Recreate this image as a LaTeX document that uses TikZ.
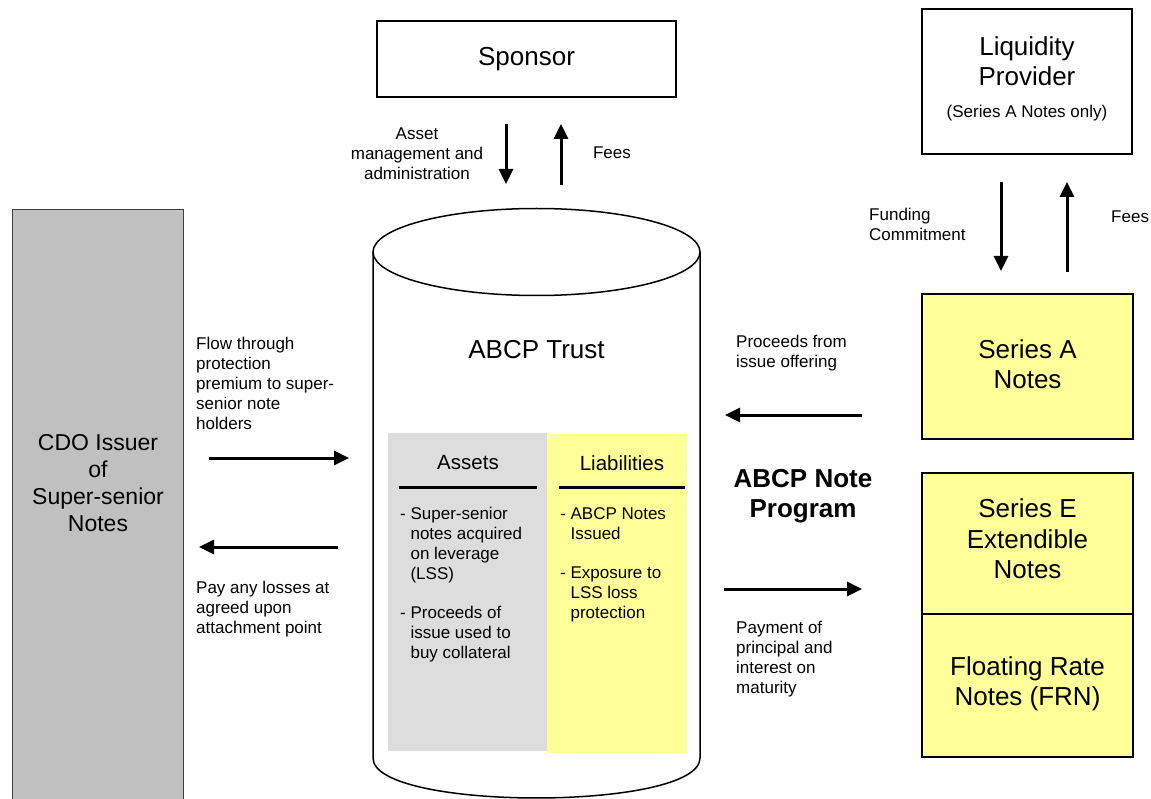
\documentclass[tikz,border=0pt]{standalone}
\usepackage{fontspec}
\setmainfont{Liberation Sans}
\usetikzlibrary{arrows.meta}
\definecolor{noteyellow}{HTML}{FFFF99}
\definecolor{cdogray}{HTML}{C0C0C0}
\definecolor{assetgray}{HTML}{DDDDDD}
\begin{document}
\begin{tikzpicture}[x=1pt,y=-1pt,
  box/.style={draw=black,line width=1.5pt,inner sep=0pt,align=center,
    font=\fontsize{26}{30.5}\selectfont},
  big/.style={inner sep=0pt,align=center,font=\fontsize{26}{30.5}\selectfont},
  small/.style={inner sep=0pt,align=left,font=\fontsize{17}{20}\selectfont},
  flow/.style={line width=3pt,-{Triangle[length=15pt,width=14pt]}},
  rule/.style={line width=3pt}]
\useasboundingbox (0,0) rectangle (1151,799);

% --- Sponsor and its two flows
\node[box,minimum width=299pt,minimum height=76pt] (sponsor) at (526.5,59) {Sponsor};
\coordinate (sd1) at (506,124); \coordinate (sd2) at (506,184);
\coordinate (su1) at (561,185); \coordinate (su2) at (561,124);
\draw[flow] (sd1) -- (sd2);
\draw[flow] (su1) -- (su2);
\node[small,align=center] (mgmt) at (417,154) {Asset\\management and\\administration};
\node[small] (fees1) at (612,153) {Fees};

% --- Liquidity provider
\node[box,minimum width=210pt,minimum height=145pt] (liq) at (1027,81.5) {};
\node[big] (liqtxt) at (1027,61) {Liquidity\\Provider};
\node[small,align=center] (liqnote) at (1027,113) {(Series A Notes only)};
\coordinate (ld1) at (1001,182); \coordinate (ld2) at (1001,271);
\coordinate (lu1) at (1067,272); \coordinate (lu2) at (1067,182);
\draw[flow] (ld1) -- (ld2);
\draw[flow] (lu1) -- (lu2);
\node[small,anchor=west] (fund) at (869,224) {Funding\\Commitment};
\node[small,anchor=west] (fees2) at (1111,217) {Fees};

% --- Note series
\node[box,fill=noteyellow,minimum width=211pt,minimum height=145pt] (seriesA) at (1027.5,366.5) {};
\node[big] (seriesAtxt) at (1027.5,364) {Series A\\Notes};
\node[box,fill=noteyellow,minimum width=211pt,minimum height=141pt] (seriesE) at (1027.5,543.5) {};
\node[big] (seriesEtxt) at (1027.5,539) {Series E\\Extendible\\Notes};
\node[box,fill=noteyellow,minimum width=211pt,minimum height=143pt] (frn) at (1027.5,685.5) {};
\node[big] (frntxt) at (1027.5,684) {Floating Rate\\Notes (FRN)};

% --- CDO issuer
\node[draw=black!75,line width=1pt,fill=cdogray,minimum width=171pt,minimum height=600pt,inner sep=0pt] (cdo) at (97.5,510) {};
\node[inner sep=0pt,align=center,font=\fontsize{23}{27}\selectfont] (cdotxt) at (98,483) {CDO Issuer\\of\\Super-senior\\Notes};

% --- ABCP trust drum
\draw[line width=1.5pt,fill=white] (373,252) -- (373,758)
  .. controls (373,811.3) and (700,811.3) .. (700,758) -- (700,252);
\draw[line width=1.5pt,fill=white] (536.5,252) ellipse [x radius=163.5, y radius=43.5];
\node[big] (trust) at (536.5,350) {ABCP Trust};

% --- Balance sheet inside the trust
\node[fill=assetgray,minimum width=159pt,minimum height=318pt,inner sep=0pt] (assets) at (467.5,592) {};
\node[fill=noteyellow,minimum width=140pt,minimum height=319pt,inner sep=0pt] (liab) at (617,593.5) {};
\node[inner sep=0pt,font=\fontsize{20.5}{24}\selectfont] (assetshd) at (468,463) {Assets};
\node[inner sep=0pt,font=\fontsize{20.5}{24}\selectfont] (liabhd) at (622,463) {Liabilities};
\coordinate (ar1) at (399,487); \coordinate (ar2) at (537,487);
\coordinate (lr1) at (559,487); \coordinate (lr2) at (685,487);
\draw[rule] (ar1) -- (ar2);
\draw[rule] (lr1) -- (lr2);
\node[small,anchor=north west] (assetlist) at (400,507)
  {- Super-senior\\\phantom{- }notes acquired\\\phantom{- }on leverage\\\phantom{- }(LSS)\\[19pt]- Proceeds of\\\phantom{- }issue used to\\\phantom{- }buy collateral};
\node[small,anchor=north west] (liablist) at (560,507)
  {- ABCP Notes\\\phantom{- }Issued\\[19pt]- Exposure to\\\phantom{- }LSS loss\\\phantom{- }protection};

% --- Flows between CDO issuer and trust
\coordinate (cf1) at (209,458); \coordinate (cf2) at (349,458);
\coordinate (cb1) at (338,547); \coordinate (cb2) at (199,547);
\draw[flow] (cf1) -- (cf2);
\draw[flow] (cb1) -- (cb2);
\node[small,anchor=west] (flowtxt) at (196,383)
  {Flow through\\protection\\premium to super-\\senior note\\holders};
\node[small,anchor=west] (paytxt) at (196,609)
  {Pay any losses at\\agreed upon\\attachment point};

% --- Flows between trust and note programme
\coordinate (pf1) at (862,415); \coordinate (pf2) at (725,415);
\coordinate (mf1) at (724,589); \coordinate (mf2) at (862,589);
\draw[flow] (pf1) -- (pf2);
\draw[flow] (mf1) -- (mf2);
\node[small,anchor=west] (proctxt) at (736,353) {Proceeds from\\issue offering};
\node[inner sep=0pt,align=center,font=\bfseries\fontsize{26}{30.5}\selectfont] (prog) at (803,496) {ABCP Note\\Program};
\node[small,anchor=west] (paymtxt) at (736,659)
  {Payment of\\principal and\\interest on\\maturity};
\end{tikzpicture}
\end{document}
